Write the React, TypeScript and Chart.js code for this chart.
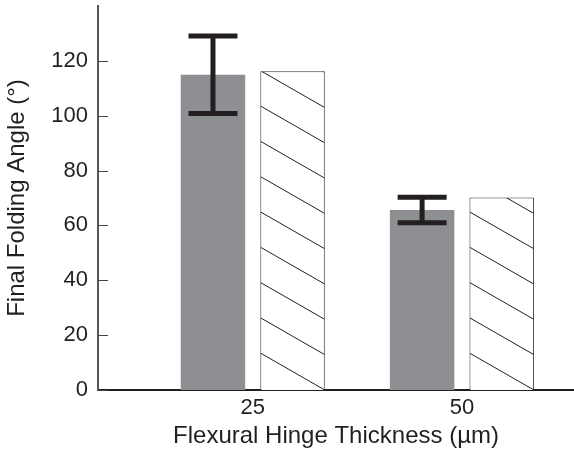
import React, { useEffect, useRef } from 'react';
import { Chart, registerables } from 'chart.js';

Chart.register(...registerables);

// ---- data ----
const categories = [25, 50]; // Flexural hinge thickness (µm)
const measured = [114.9, 65.6];
const errLow = [100.8, 61.0];
const errHigh = [129.1, 70.3];
const simulated = [116.2, 70.2];
const yTicks = [0, 20, 40, 60, 80, 100, 120];
const xTicks = [25, 50];

const TEXT = '#231f20';
const FONT = "'Liberation Sans', Arial, Helvetica, sans-serif";

export default function App() {
  const ref = useRef<HTMLCanvasElement>(null);

  useEffect(() => {
    document.body.style.margin = '0';
    const canvas = ref.current;
    if (!canvas) return;

    const hatchPlugin = {
      id: 'hatchBars',
      afterDatasetsDraw(chart: any) {
        const meta = chart.getDatasetMeta(1);
        const ctx = chart.ctx;
        meta.data.forEach((bar: any) => {
          const p = bar.getProps(['x', 'y', 'width', 'base'], true);
          const L = p.x - p.width / 2;
          const R = p.x + p.width / 2;
          const T = p.y;
          const B = p.base;
          const w = R - L;
          const slope = 0.574;
          const sp = 35.3;
          ctx.save();
          ctx.beginPath();
          ctx.rect(L + 0.5, T + 0.5, w - 1, B - T - 0.5);
          ctx.clip();
          ctx.strokeStyle = TEXT;
          ctx.lineWidth = 1;
          ctx.beginPath();
          for (let k = 0; B - k * sp > T; k++) {
            const yR = B - k * sp;
            ctx.moveTo(R, yR);
            ctx.lineTo(L, yR - slope * w);
          }
          ctx.stroke();
          ctx.restore();
        });
      },
    };

    const errorPlugin = {
      id: 'errorBars',
      afterDatasetsDraw(chart: any) {
        const meta = chart.getDatasetMeta(0);
        const yScale = chart.scales.y;
        const ctx = chart.ctx;
        ctx.save();
        ctx.strokeStyle = TEXT;
        ctx.lineWidth = 5;
        ctx.lineCap = 'butt';
        meta.data.forEach((bar: any, i: number) => {
          const x = bar.x;
          const yHi = yScale.getPixelForValue(errHigh[i]);
          const yLo = yScale.getPixelForValue(errLow[i]);
          const half = 24.5;
          ctx.beginPath();
          ctx.moveTo(x, yHi);
          ctx.lineTo(x, yLo);
          ctx.moveTo(x - half, yHi);
          ctx.lineTo(x + half, yHi);
          ctx.moveTo(x - half, yLo);
          ctx.lineTo(x + half, yLo);
          ctx.stroke();
        });
        ctx.restore();
      },
    };

    const innerTicksPlugin = {
      id: 'innerTicks',
      afterDraw(chart: any) {
        const yScale = chart.scales.y;
        const left = chart.chartArea.left;
        const ctx = chart.ctx;
        ctx.save();
        ctx.strokeStyle = '#444';
        ctx.lineWidth = 1;
        ctx.beginPath();
        yTicks.forEach((v) => {
          const y = Math.round(yScale.getPixelForValue(v)) + 0.5;
          ctx.moveTo(left, y);
          ctx.lineTo(left + 10, y);
        });
        ctx.stroke();
        ctx.restore();
      },
    };

    const chart = new Chart(canvas, {
      type: 'bar',
      data: {
        datasets: [
          {
            label: 'Measured',
            data: categories.map((c, i) => ({ x: c, y: measured[i] })),
            backgroundColor: '#8e8f93',
            borderWidth: 0,
          },
          {
            label: 'Simulated',
            data: categories.map((c, i) => ({ x: c, y: simulated[i] })),
            backgroundColor: '#ffffff',
            borderColor: '#333333',
            borderWidth: 1,
          },
        ],
      },
      options: {
        responsive: false,
        animation: false,
        devicePixelRatio: 1,
        categoryPercentage: 0.761,
        barPercentage: 0.81,
        layout: { padding: { top: 6, right: 0, left: 0, bottom: 0 } },
        plugins: {
          legend: { display: false },
          tooltip: { enabled: false },
        },
        scales: {
          x: {
            type: 'linear',
            min: 6.5,
            max: 63.4,
            offset: false,
            afterBuildTicks: (s: any) => {
              s.ticks = xTicks.map((v) => ({ value: v }));
            },
            afterFit: (s: any) => {
              s.height = 66;
              s.paddingLeft = 0;
              s.paddingRight = 0;
            },
            grid: { display: false, drawTicks: false },
            border: { display: true, color: TEXT, width: 2 },
            ticks: {
              font: { family: FONT, size: 22 },
              color: TEXT,
              padding: 5,
              maxRotation: 0,
              autoSkip: false,
              callback: (v: any) => String(v),
            },
            title: {
              display: true,
              text: 'Flexural Hinge Thickness (µm)',
              font: { family: FONT, size: 24 },
              color: TEXT,
              padding: { top: 0, bottom: 5 },
            },
          },
          y: {
            type: 'linear',
            min: 0,
            max: 140,
            afterBuildTicks: (s: any) => {
              s.ticks = yTicks.map((v) => ({ value: v }));
            },
            afterFit: (s: any) => {
              s.width = 98;
              s.paddingTop = 0;
              s.paddingBottom = 0;
            },
            grid: { display: false, drawTicks: false },
            border: { display: true, color: '#555555', width: 2 },
            ticks: {
              font: { family: FONT, size: 22 },
              color: TEXT,
              padding: 10,
              callback: (v: any) => String(v),
            },
            title: {
              display: true,
              text: 'Final Folding Angle (°)',
              font: { family: FONT, size: 24 },
              color: TEXT,
              padding: { top: 3, bottom: 0 },
            },
          },
        },
      },
      plugins: [hatchPlugin, errorPlugin, innerTicksPlugin],
    } as any);

    return () => {
      chart.destroy();
    };
  }, []);

  return (
    <div style={{ position: 'absolute', left: 0, top: 0, width: 574, height: 456, background: '#fff' }}>
      <canvas ref={ref} width={574} height={456} style={{ display: 'block', width: 574, height: 456 }} />
    </div>
  );
}
